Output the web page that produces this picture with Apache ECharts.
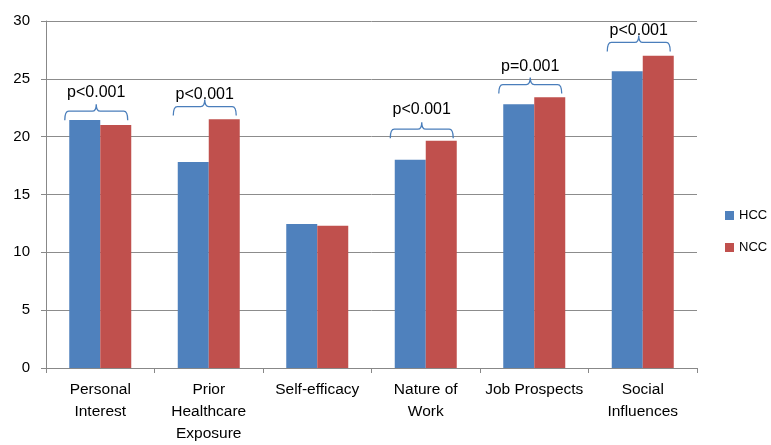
<!DOCTYPE html>
<html>
<head>
<meta charset="utf-8">
<script src="https://cdn.jsdelivr.net/npm/echarts@6/dist/echarts.min.js"></script>
<style>
html,body{margin:0;padding:0;background:#fff;}
#chart{width:771px;height:445px;}
</style>
</head>
<body>
<div id="chart"></div>
<script>
const categories = ['Personal\nInterest', 'Prior\nHealthcare\nExposure', 'Self-efficacy', 'Nature of\nWork', 'Job Prospects', 'Social\nInfluences'];
const hccValues = [21.45, 17.8, 12.45, 18.0, 22.8, 25.65];
const nccValues = [21.0, 21.5, 12.3, 19.65, 23.4, 27.0];
const yTicks = [0, 5, 10, 15, 20, 25, 30];

// significance braces
const braceCategories = [0, 1, 3, 4, 5];
const braceLevels = [22.2, 22.6, 20.65, 24.5, 28.15];
const braceLabelLevels = [23.8, 23.6, 22.35, 26.05, 29.15];
const braceLabels = ['p<0.001', 'p<0.001', 'p<0.001', 'p=0.001', 'p<0.001'];

const FONT = '"Liberation Sans", Arial, sans-serif';
const chart = echarts.init(document.getElementById('chart'));

const braceData = braceCategories.map((c, i) => [c, braceLevels[i], braceLabelLevels[i]]);

chart.setOption({
  animation: false,
  backgroundColor: '#fff',
  grid: { left: 46, right: 74, top: 21, bottom: 71, containLabel: false },
  legend: {
    data: ['HCC', 'NCC'],
    orient: 'vertical',
    left: 725,
    top: 209,
    padding: 0,
    icon: 'rect',
    itemWidth: 9,
    itemHeight: 9,
    itemGap: 19,
    textStyle: { fontFamily: FONT, fontSize: 13, color: '#000' }
  },
  xAxis: {
    type: 'category',
    data: categories,
    axisLine: { lineStyle: { color: '#888', width: 1 } },
    axisTick: { show: true, length: 5, lineStyle: { color: '#888' } },
    axisLabel: { fontFamily: FONT, fontSize: 15.5, color: '#000', margin: 11, lineHeight: 22, interval: 0 }
  },
  yAxis: {
    type: 'value',
    min: yTicks[0],
    max: yTicks[yTicks.length - 1],
    interval: 5,
    axisLine: { show: true, lineStyle: { color: '#888', width: 1 } },
    axisTick: { show: true, length: 5, lineStyle: { color: '#888' } },
    splitLine: { lineStyle: { color: '#8c8c8c', width: 1 } },
    axisLabel: { fontFamily: FONT, fontSize: 15, color: '#000', margin: 16 }
  },
  series: [
    { name: 'HCC', type: 'bar', data: hccValues, barWidth: 31, barGap: '0%', itemStyle: { color: '#4f81bd' } },
    { name: 'NCC', type: 'bar', data: nccValues, barWidth: 31, barGap: '0%', itemStyle: { color: '#c0504d' } },
    {
      type: 'custom',
      data: braceData,
      z: 5,
      silent: true,
      renderItem: function (params, api) {
        const c = api.coord([api.value(0), api.value(1)]);
        const t = api.coord([api.value(0), api.value(2)]);
        const bw = api.size([1, 0])[0];
        const hw = bw * 0.29;
        const cx = c[0] - 4, y = c[1];
        const d = 'M' + (cx - hw) + ',' + (y + 9) +
          ' Q' + (cx - hw) + ',' + y + ' ' + (cx - hw + 4) + ',' + y +
          ' L' + (cx - 4) + ',' + y +
          ' Q' + cx + ',' + y + ' ' + cx + ',' + (y - 7) +
          ' Q' + cx + ',' + y + ' ' + (cx + 4) + ',' + y +
          ' L' + (cx + hw - 4) + ',' + y +
          ' Q' + (cx + hw) + ',' + y + ' ' + (cx + hw) + ',' + (y + 9);
        return {
          type: 'group',
          children: [
            { type: 'path', shape: { pathData: d }, style: { fill: 'none', stroke: '#4a7ebb', lineWidth: 1.3 } },
            { type: 'text', style: { text: braceLabels[params.dataIndex], x: c[0] - 4, y: t[1], align: 'center', verticalAlign: 'middle', font: '16px ' + FONT, fill: '#000' } }
          ]
        };
      }
    }
  ]
});
</script>
</body>
</html>
